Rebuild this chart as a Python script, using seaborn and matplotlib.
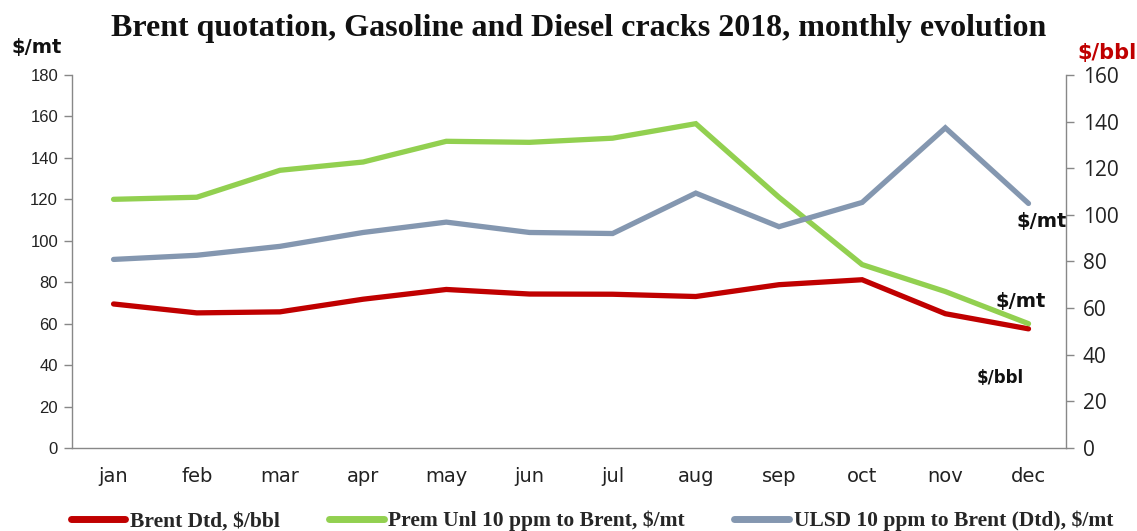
import matplotlib
matplotlib.use("Agg")
import matplotlib.pyplot as plt
import seaborn as sns
import pandas as pd
from matplotlib.lines import Line2D

months = ["jan", "feb", "mar", "apr", "may", "jun", "jul", "aug", "sep", "oct", "nov", "dec"]
brent_dtd = [69.5, 65.2, 65.7, 71.8, 76.5, 74.3, 74.2, 73.1, 78.8, 81.2, 64.8, 57.5]
prem_unl = [120, 121, 134, 138, 148, 147.5, 149.5, 156.5, 121, 88.5, 75.5, 60]
ulsd = [91, 93, 97.3, 104, 109, 104, 103.5, 123, 106.8, 118.5, 154.5, 118]

series_names = ["Brent Dtd, $/bbl", "Prem Unl 10 ppm to Brent, $/mt", "ULSD 10 ppm to Brent (Dtd), $/mt"]
colors = ["#C00000", "#92D050", "#8497B0"]

left_ticks = list(range(0, 181, 20))
right_ticks = list(range(0, 161, 20))

df = pd.DataFrame({
    "month": months * 3,
    "pos": list(range(12)) * 3,
    "value": brent_dtd + prem_unl + ulsd,
    "series": [series_names[0]] * 12 + [series_names[1]] * 12 + [series_names[2]] * 12,
})

sns.set_theme(style="white")
plt.rcParams["font.family"] = ["DejaVu Sans"]

fig = plt.figure(figsize=(11.37, 5.31), dpi=100)
ax = fig.add_axes([0.0633, 0.1563, 0.8742, 0.7025])

sns.lineplot(data=df, x="pos", y="value", hue="series", hue_order=series_names,
             palette=colors, linewidth=3.8, ax=ax, legend=False, sort=False)
for ln in ax.get_lines():
    ln.set_solid_capstyle("round")
    ln.set_solid_joinstyle("miter")

ax.set_xlim(-0.5, 11.45)
ax.set_ylim(0, 180)
ax.set_yticks(left_ticks)
ax.set_yticklabels([str(t) for t in left_ticks], fontsize=12, family="Liberation Sans", color="#222222")
ax.set_xticks(range(12))
ax.set_xticklabels(months, fontsize=14, family="DejaVu Sans", color="#222222")
ax.set_xlabel("")
ax.set_ylabel("")
ax.tick_params(axis="x", length=0, pad=14)
ax.tick_params(axis="y", length=6, width=1, color="#888888", direction="out", pad=4, left=True)
for side in ["top", "right"]:
    ax.spines[side].set_visible(False)
for side in ["left", "bottom"]:
    ax.spines[side].set_color("#888888")
    ax.spines[side].set_linewidth(1)

ax2 = ax.twinx()
ax2.set_ylim(0, 160)
ax2.set_yticks(right_ticks)
ax2.set_yticklabels([str(t) for t in right_ticks], fontsize=15, family="Open Sans", color="#222222")
ax2.tick_params(axis="y", length=6, width=1, color="#888888", direction="out", pad=6, right=True)
for side in ["top", "left", "bottom"]:
    ax2.spines[side].set_visible(False)
ax2.spines["right"].set_color("#888888")
ax2.spines["right"].set_linewidth(1)
ax2.grid(False)

fig.text(0.509, 0.946, "Brent quotation, Gasoline and Diesel cracks 2018, monthly evolution",
         ha="center", va="center", fontsize=23, fontweight="bold", family="Liberation Serif", color="#111111")
fig.text(0.010, 0.910, "$/mt", ha="left", va="center", fontsize=14, fontweight="bold",
         family="DejaVu Sans", color="#111111")
fig.text(1.0, 0.900, "$/bbl", ha="right", va="center", fontsize=15, fontweight="bold",
         family="DejaVu Sans", color="#C00000")

# unit tags at the right-hand ends of the lines
ax.text(10.85, 109.5, "$/mt", ha="left", va="center", fontsize=14, fontweight="bold", family="DejaVu Sans", color="#111111")
ax.text(10.6, 70.5, "$/mt", ha="left", va="center", fontsize=14, fontweight="bold", family="DejaVu Sans", color="#111111")
ax.text(10.38, 33.8, "$/bbl", ha="left", va="center", fontsize=12, fontweight="bold", family="DejaVu Sans", color="#111111")

handles = [Line2D([0], [0], color=c, linewidth=5, solid_capstyle="round") for c in colors]
fig.legend(handles, series_names, loc="center", bbox_to_anchor=(0.5205, 0.019), ncol=3, frameon=False,
           prop={"family": "Liberation Serif", "weight": "bold", "size": 15.5},
           handlelength=2.55, handletextpad=0.2, columnspacing=2.3, borderaxespad=0)

fig.savefig("out.png", dpi=100, facecolor="white")
